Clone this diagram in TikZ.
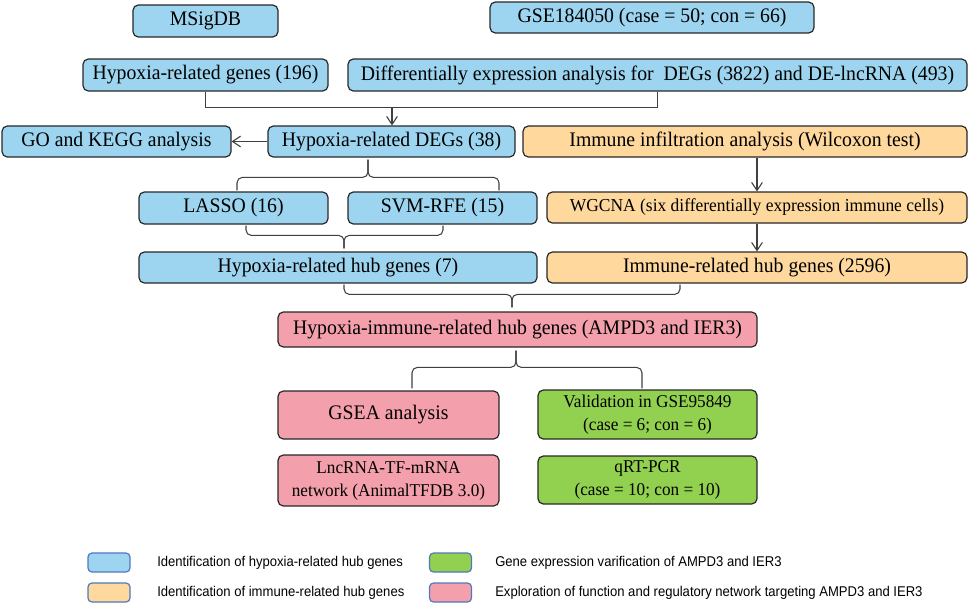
\documentclass[tikz,border=0pt]{standalone}
\usepackage{fontspec}
\setmainfont[FakeStretch=0.955]{Liberation Serif}
\newfontfamily\legfont[FakeStretch=0.925]{Liberation Sans}
\usetikzlibrary{arrows.meta,calc}
\definecolor{cblue}{RGB}{157,213,240}
\definecolor{corange}{RGB}{254,216,156}
\definecolor{cpink}{RGB}{243,160,172}
\definecolor{cgreen}{RGB}{146,208,80}
\definecolor{cline}{RGB}{64,64,64}
\definecolor{cedge}{RGB}{40,40,40}
\definecolor{legedge}{RGB}{80,120,190}
\begin{document}
\begin{tikzpicture}[x=0.75pt,y=-0.75pt,
  box/.style={draw=cedge, line width=0.9pt, rounded corners=4pt, inner sep=0pt, align=center,
              font=\fontsize{15.5}{17}\selectfont},
  sz/.style 2 args={minimum width=#1*0.75pt, minimum height=#2*0.75pt},
  hypbox/.style={box, fill=cblue},
  immbox/.style={box, fill=corange},
  expbox/.style={box, fill=cpink},
  verbox/.style={box, fill=cgreen},
  small/.style={font=\fontsize{13.5}{17.3}\selectfont},
  conn/.style={draw=cline, line width=0.8pt},
  arr/.style={conn, -{Straight Barb[length=6pt,width=8pt]}},
  brace/.style={conn, rounded corners=4pt},
  swatch/.style={draw=legedge, line width=0.9pt, rounded corners=3pt, inner sep=0pt,
                 minimum width=42*0.75pt, minimum height=19*0.75pt},
  legtext/.style={anchor=west, inner sep=0pt, font=\legfont\fontsize{10.6}{12}\selectfont}
]
\useasboundingbox (0,0) rectangle (969,604);

% boxes
\node[hypbox, sz={145}{32}] (msig) at (205.5,21) {MSigDB};
\node[hypbox, sz={324}{31}] (gse) at (652,17.5) {GSE184050 (case = 50; con = 66)};
\node[hypbox, sz={245}{32}] (hgen) at (205.5,75) {Hypoxia-related genes (196)};
\node[hypbox, sz={619}{32}] (de) at (657.5,75) {Differentially expression analysis for~ DEGs (3822) and DE-lncRNA (493)};
\node[hypbox, sz={229}{31}] (go) at (116.5,141.5) {GO and KEGG analysis};
\node[hypbox, sz={247}{31}] (hdeg) at (391.5,141.5) {Hypoxia-related DEGs (38)};
\node[immbox, sz={444}{31}] (imm) at (745,141.5) {Immune infiltration analysis (Wilcoxon test)};
\node[hypbox, sz={189}{32}] (lasso) at (233.5,208) {LASSO (16)};
\node[hypbox, sz={189}{32}] (svm) at (442.5,208) {SVM-RFE (15)};
\node[immbox, sz={420}{31}, font=\fontsize{13.7}{16}\selectfont] (wgcna) at (757,207.5) {WGCNA (six differentially expression immune cells)};
\node[hypbox, sz={398}{31}] (hhub) at (338,267.5) {Hypoxia-related hub genes (7)};
\node[immbox, sz={420}{31}] (ihub) at (757,267.5) {Immune-related hub genes (2596)};
\node[expbox, sz={479}{35}] (himm) at (517.5,329.5) {Hypoxia-immune-related hub genes (AMPD3 and IER3)};
\node[expbox, sz={221}{48}] (gsea) at (388.5,415) {GSEA analysis};
\node[verbox, small, sz={219}{49}] (valid) at (647.5,414.5) {Validation in GSE95849\\(case = 6; con = 6)};
\node[expbox, small, sz={221}{51}] (lnc) at (388.5,480.5) {LncRNA-TF-mRNA\\network (AnimalTFDB 3.0)};
\node[verbox, small, sz={219}{48}] (qrt) at (647.5,480) {qRT-PCR\\(case = 10; con = 10)};

% connectors
\coordinate (j1) at ($(hdeg.north)+(0.5,-18)$);
\draw[conn] (hgen.south) |- (j1);
\draw[conn] (de.south) |- (j1);
\draw[arr] (j1) -- (j1 |- hdeg.north);
\draw[arr] (hdeg.west) -- (go.east);
\draw[arr] (wgcna.north |- imm.south) -- (wgcna.north);
\draw[arr] (wgcna.south) -- (ihub.north);

% brace 1 (DEGs -> LASSO / SVM-RFE)
\coordinate (t1) at ($(hdeg.south)+(-23.5,2)$);
\draw[brace] (t1) |- ($(lasso.north)+(3.5,-14)$) -- ($(lasso.north)+(3.5,-1)$);
\draw[brace] (t1) |- ($(svm.north)+(56.5,-14)$) -- ($(svm.north)+(56.5,-1)$);

% brace 2 (LASSO / SVM-RFE -> hub genes)
\coordinate (t2) at ($(hhub.north)+(6,-3)$);
\draw[brace] ($(lasso.south)+(12.5,1)$) |- ($(t2)+(0,-13)$) -- (t2);
\draw[brace] ($(svm.south)+(0.5,1)$) |- ($(t2)+(0,-13)$) -- (t2);

% brace 3 (hub genes -> hypoxia-immune)
\coordinate (t3) at ($(himm.north)+(-5.5,-4)$);
\draw[brace] ($(hhub.south)+(6,1)$) |- ($(t3)+(0,-13)$) -- (t3);
\draw[brace] ($(ihub.south)+(-77,1)$) |- ($(t3)+(0,-13)$) -- (t3);

% brace 4 (hypoxia-immune -> GSEA / validation)
\coordinate (t4) at ($(himm.south)+(-1.5,3)$);
\draw[brace] (t4) |- ($(gsea.north)+(23.5,-23)$) -- ($(gsea.north)+(23.5,-2)$);
\draw[brace] (t4) |- ($(valid.north)+(-5.5,-22)$) -- ($(valid.north)+(-5.5,-1)$);

% legend
\node[swatch, fill=cblue] (l1) at (109,562.5) {};
\node[swatch, fill=corange] (l2) at (109,592.5) {};
\node[swatch, fill=cgreen] (l3) at (450.5,562.5) {};
\node[swatch, fill=cpink] (l4) at (450.5,592.5) {};
\node[legtext] (lt1) at (157,563) {Identification of hypoxia-related hub genes};
\node[legtext] (lt2) at (157,593) {Identification of immune-related hub genes};
\node[legtext] (lt3) at (495,563) {Gene expression varification of AMPD3 and IER3};
\node[legtext] (lt4) at (495,593) {Exploration of function and regulatory network targeting AMPD3 and IER3};
\end{tikzpicture}
\end{document}
